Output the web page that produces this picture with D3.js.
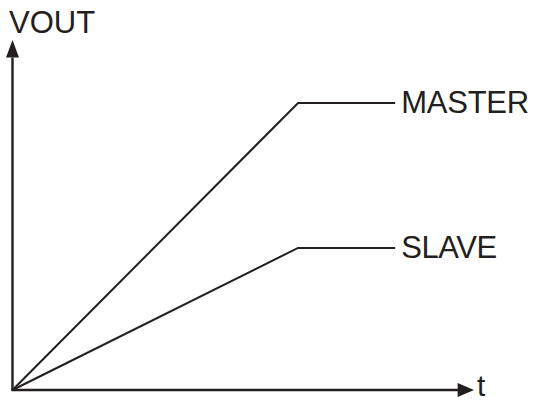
<!DOCTYPE html>
<html lang="en">
<head>
    <meta charset="UTF-8">
    <title>VOUT ramp</title>
    <script src="https://d3js.org/d3.v7.min.js"></script>
    <style>
        body { margin: 0; background: #fff; }
        text { font-family: "Liberation Sans", Arial, sans-serif; fill: #231f20; }
    </style>
</head>
<body>
    <div id="chart"></div>
    <script>
        // time points: start, end of ramp, end of drawn trace
        const timePoints = [0, 2.97, 3.98];
        const seriesNames = ["MASTER", "SLAVE"];
        const masterValues = [0, 8.2, 8.2];
        const slaveValues = [0, 4.06, 4.06];
        const axisLabels = ["VOUT", "t"];

        const width = 536, height = 403;
        const ink = "#231f20";

        const svg = d3.select("#chart")
            .append("svg")
            .attr("width", width)
            .attr("height", height);

        const x = d3.scaleLinear().domain([0, 4.8]).range([12.5, 474]);
        const y = d3.scaleLinear().domain([0, 10]).range([390, 40]);

        // axes with arrow heads
        svg.append("line")
            .attr("x1", x(0)).attr("y1", y(0))
            .attr("x2", x(0)).attr("y2", y(9.5))
            .attr("stroke", ink).attr("stroke-width", 2.4);
        svg.append("line")
            .attr("x1", x(0) - 1.2).attr("y1", y(0))
            .attr("x2", x(4.65)).attr("y2", y(0))
            .attr("stroke", ink).attr("stroke-width", 2.4);

        svg.append("path")
            .attr("d", `M${x(0)},${y(10)} L${x(0) - 6.5},${y(9.5)} L${x(0) + 6.5},${y(9.5)} Z`)
            .attr("fill", ink);
        svg.append("path")
            .attr("d", `M${x(4.8)},${y(0)} L${x(4.63)},${y(0) - 7} L${x(4.63)},${y(0) + 7} Z`)
            .attr("fill", ink);

        svg.append("text")
            .attr("x", 9).attr("y", 33)
            .attr("font-size", 31)
            .text(axisLabels[0]);
        // kept a little high so the glyph box stays inside the picture
        svg.append("text")
            .attr("x", x(4.8) + 3).attr("y", 396)
            .attr("font-size", 30)
            .text(axisLabels[1]);

        const line = d3.line()
            .x((d, i) => x(timePoints[i]))
            .y(d => y(d));

        [masterValues, slaveValues].forEach(function (vals, k) {
            svg.append("path")
                .attr("d", line(vals))
                .attr("fill", "none")
                .attr("stroke", ink)
                .attr("stroke-width", 2);

            svg.append("text")
                .attr("x", x(timePoints[2]) + 6)
                .attr("y", y(vals[2]) + 10)
                .attr("font-size", 31)
                .attr("textLength", k === 0 ? 128 : 96)
                .text(seriesNames[k]);
        });
    </script>
</body>
</html>
